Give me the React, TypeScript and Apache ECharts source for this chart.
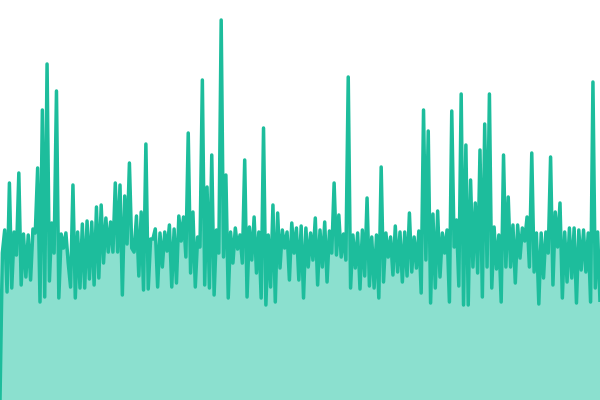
import React, { useEffect, useRef } from "react";
import * as echarts from "echarts";

// Values (y scale 0..400), split by 100px strips
const values1 = [0, 147, 170, 108, 217, 112, 168, 145, 227, 115, 166, 123, 165, 120, 171, 167, 232, 98, 290, 103, 336, 119, 177, 147, 309, 102, 166, 152, 167, 137, 113, 215, 102, 168, 112, 176, 112, 179, 121, 178, 115, 193, 122];
const values2 = [195, 137, 182, 148, 178, 148, 217, 148, 215, 105, 204, 156, 237, 152, 148, 184, 124, 188, 110, 256, 111, 161, 161, 171, 113, 167, 133, 168, 149, 175, 113, 171, 117, 184, 159, 183, 143, 267, 127, 188, 113, 163];
const values3 = [153, 320, 115, 213, 112, 245, 105, 170, 147, 380, 143, 225, 102, 168, 137, 172, 151, 165, 137, 240, 103, 173, 140, 183, 127, 168, 102, 272, 95, 165, 113, 195, 98, 187, 132, 170, 152, 168, 120, 177, 147, 172, 120];
const values4 = [174, 102, 172, 133, 167, 140, 182, 115, 170, 133, 178, 118, 169, 147, 217, 145, 185, 143, 166, 140, 323, 112, 165, 132, 167, 111, 170, 124, 202, 114, 163, 112, 165, 102, 233, 118, 167, 143, 163, 125, 174, 128];
const values5 = [168, 118, 168, 124, 187, 128, 163, 132, 169, 107, 290, 140, 269, 97, 186, 112, 189, 123, 167, 147, 170, 98, 289, 153, 180, 114, 306, 95, 255, 95, 220, 133, 197, 127, 250, 103, 276, 133, 306, 112, 173, 131, 165];
const values6 = [98, 245, 133, 203, 133, 175, 117, 175, 142, 172, 159, 183, 133, 247, 128, 167, 96, 167, 122, 168, 147, 243, 115, 188, 153, 197, 102, 168, 118, 172, 122, 172, 97, 170, 130, 170, 128, 167, 98, 318, 112, 168, 98];

const seriesValues = [...values1, ...values2, ...values3, ...values4, ...values5, ...values6];
const categories = seriesValues.map((_, i) => String(i + 1));

export default function App() {
  const ref = useRef<HTMLDivElement>(null);
  useEffect(() => {
    if (!ref.current) return;
    const chart = echarts.init(ref.current, null, { renderer: "svg" });
    chart.setOption({
      animation: false,
      grid: { left: 0, right: 0, top: 0, bottom: 0 },
      xAxis: {
        type: "category",
        data: categories,
        boundaryGap: false,
        show: false,
      },
      yAxis: {
        type: "value",
        min: 0,
        max: 400,
        show: false,
      },
      series: [
        {
          type: "line",
          data: seriesValues,
          showSymbol: false,
          lineStyle: { color: "#1dbd9c", width: 3.5, join: "round" },
          itemStyle: { color: "#1dbd9c" },
          areaStyle: { color: "#8be0cf", opacity: 1 },
        },
      ],
    });
    return () => chart.dispose();
  }, []);
  return (
    <div
      ref={ref}
      style={{ position: "fixed", left: 0, top: 0, width: 600, height: 400 }}
    />
  );
}
